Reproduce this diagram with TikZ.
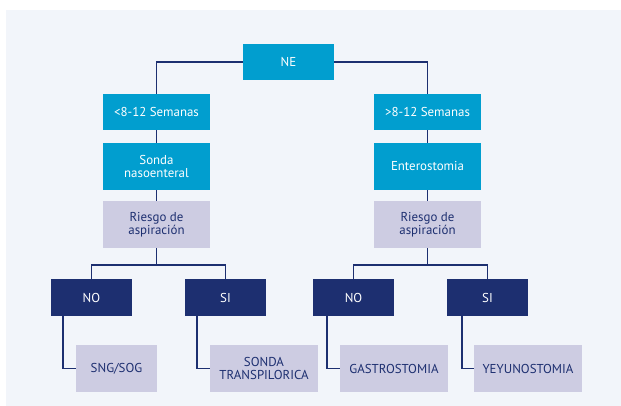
\documentclass[tikz,border=0pt]{standalone}
\usepackage{fontspec}
\setmainfont{PT Sans}
\usetikzlibrary{calc}
\definecolor{panel}{HTML}{F2F5FA}
\definecolor{cyanbox}{HTML}{019ECF}
\definecolor{lilac}{HTML}{CDCCE2}
\definecolor{navy}{HTML}{1D2F70}
\begin{document}
\begin{tikzpicture}[x=1pt,y=-1pt,
  box/.style={rectangle,inner sep=0pt,align=center,font=\fontsize{12.9}{13}\selectfont},
  cbox/.style={box,fill=cyanbox,text=white,minimum width=107pt,minimum height=47pt},
  lbox/.style={box,fill=lilac,text=navy,minimum width=108pt,minimum height=47pt},
  nbox/.style={box,fill=navy,text=white,minimum width=81pt,minimum height=37pt},
  link/.style={draw=navy,line width=1.6pt}]
\useasboundingbox (0,0) rectangle (621,406);
\fill[white] (0,0) rectangle (621,406);
\fill[panel] (6,10) rectangle (621,406);

% connectors first, so the boxes sit on top of them
\coordinate (ne) at (288.5,62);
\coordinate (l1) at (156.5,112);
\coordinate (r1) at (427.5,112);
\coordinate (l3) at (156.5,224.5);
\coordinate (r3) at (427.5,224.5);
\coordinate (lsplit) at (156.5,265);
\coordinate (rsplit) at (427.5,265);
\coordinate (lno) at (91.5,297.5);
\coordinate (lsi) at (225.5,297.5);
\coordinate (rno) at (353.5,297.5);
\coordinate (rsi) at (487.5,297.5);
\coordinate (sng) at (116.5,368.5);
\coordinate (trans) at (264,368.5);
\coordinate (gastro) at (394,368.5);
\coordinate (yeyuno) at (528,368.5);

\draw[link] (ne) -| (l1);
\draw[link] (ne) -| (r1);
\draw[link] (l1) -- (l3) -- (lsplit);
\draw[link] (r1) -- (r3) -- (rsplit);
\draw[link] (lno) |- (lsplit) -| (lsi);
\draw[link] (rno) |- (rsplit) -| (rsi);
\draw[link] ($(lno)+(-28.5,0)$) |- (sng);
\draw[link] ($(lsi)+(-28.5,0)$) |- (trans);
\draw[link] ($(rno)+(-26.5,0)$) |- (gastro);
\draw[link] ($(rsi)+(-25.5,0)$) |- (yeyuno);

% top level and the two branches
\node[cbox,minimum width=91pt,minimum height=36pt] (nebox) at (ne) {NE};
\node[cbox,minimum height=36pt] (l1box) at (l1) {<8-12 Semanas};
\node[cbox,minimum height=36pt] (r1box) at (r1) {>8-12 Semanas};
\node[cbox] (l2box) at (156.5,166.5) {Sonda\\nasoenteral};
\node[cbox] (r2box) at (427.5,166.5) {Enterostomia};
\node[lbox,minimum width=107pt] (l3box) at (l3) {Riesgo de\\aspiración};
\node[lbox,minimum width=107pt] (r3box) at (r3) {Riesgo de\\aspiración};

% yes / no decisions
\node[nbox] (lnobox) at (lno) {NO};
\node[nbox] (lsibox) at (lsi) {SI};
\node[nbox] (rnobox) at (rno) {NO};
\node[nbox] (rsibox) at (rsi) {SI};

% outcomes
\node[lbox,minimum width=81pt] (sngbox) at (sng) {SNG/SOG};
\node[lbox] (transbox) at (trans) {SONDA\\TRANSPILORICA};
\node[lbox] (gastrobox) at (gastro) {GASTROSTOMIA};
\node[lbox] (yeyunobox) at (yeyuno) {YEYUNOSTOMIA};
\end{tikzpicture}
\end{document}
